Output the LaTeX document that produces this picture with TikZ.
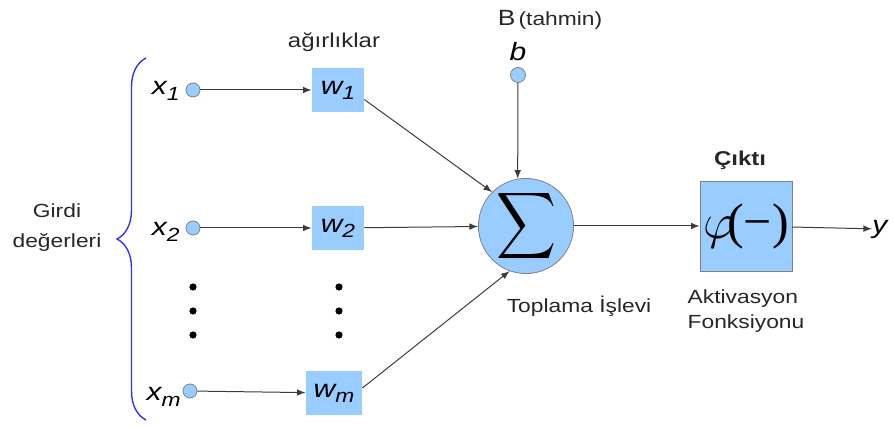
\documentclass[tikz,border=0pt]{standalone}
\usepackage{amsmath}
\usepackage{graphicx}
\usepackage{fontspec}
\setmainfont{Liberation Sans}[FakeStretch=1.2]
\newfontfamily\timesfont{Liberation Serif}
\usetikzlibrary{positioning,decorations.pathreplacing}
\definecolor{nodeblue}{HTML}{99CCFF}
\definecolor{edgegray}{HTML}{3C3C3C}
\definecolor{bracecol}{HTML}{3535E0}
\newcommand{\isub}[2][4pt]{\raisebox{-#1}{\fontsize{9.5}{9.5}\selectfont #2}}

\begin{document}
\begin{tikzpicture}[x=0.5pt,y=-0.5pt,
inpt/.style={circle,draw=gray,fill=nodeblue,inner sep=0pt,minimum size=7pt},
wbox/.style={fill=nodeblue,minimum width=26pt,minimum height=22pt,inner sep=0pt,font=\fontsize{12.5}{12.5}\selectfont\itshape},
varlbl/.style={inner sep=0pt,font=\fontsize{12.5}{12.5}\selectfont\itshape},
conn/.style={->,>=latex,draw=edgegray,line width=0.5pt},
lbl/.style={inner sep=0pt,text=black!85,font=\fontsize{9.5}{15}\selectfont},
vdot/.style={circle,fill=black,inner sep=0pt,minimum size=3.6pt}]
\useasboundingbox (0,0) rectangle (894,426);

\node[inpt] (x1) at (193,90) {};
\node[inpt] (x2) at (193,228) {};
\node[inpt] (xm) at (190,391) {};
\node[varlbl,anchor=base east] (lx1) at (180,95) {x\isub[3pt]{1}};
\node[varlbl,anchor=base east] (lx2) at (180,236) {x\isub[3pt]{2}};
\node[varlbl,anchor=base east] (lxm) at (181,401) {x\isub[3pt]{m}};

\node[wbox] (w1) at (338,90) {w\isub[2.5pt]{1}};
\node[wbox] (w2) at (338,228) {w\isub[2.5pt]{2}};
\node[wbox,minimum width=28pt] (wm) at (334,393) {w\isub[2.5pt]{m}};
\node[lbl,font=\fontsize{10}{10}\selectfont] (agr) at (334,42) {ağırlıklar};

\foreach \i/\y in {1/287,2/311,3/335} {
  \node[vdot] (dl\i) at (193,\y) {};
  \node[vdot] (dr\i) at (339,\y) {};
}

\node[circle,draw=gray,fill=nodeblue,minimum size=46pt,inner sep=0pt,font=\fontsize{21}{21}\selectfont] (sum) at (526,226) {\scalebox{1}[1.12]{$\displaystyle\sum$}};
\node[inpt,minimum size=7.5pt] (b) at (518,75) {};
\node[varlbl,above=3pt of b] (lb) {b};
\node[lbl,anchor=base] (bias) at (550,26) {{\fontsize{11}{11}\selectfont B}\,(tahmin)};
\node[lbl] (topl) at (579,306) {Toplama İşlevi};

\node[draw=gray,fill=nodeblue,minimum width=46pt,minimum height=45pt,inner sep=0pt,font=\fontsize{25}{25}\selectfont] (phi) at (746,226) {$\varphi$\kern-4pt{\timesfont(−)}};
\node[lbl,font=\fontsize{10}{10}\selectfont\bfseries] (cikti) at (740,160) {Çıktı};
\node[lbl,align=left,font=\fontsize{9.5}{12.5}\selectfont] (akt) at (746,311) {Aktivasyon\\Fonksiyonu};
\node[varlbl,anchor=west] (y) at (872,229) {y};

\node[lbl,align=center] (girdi) at (57,228) {Girdi\\değerleri};
\draw[bracecol,line width=0.7pt,decorate,decoration={brace,amplitude=14.5pt,aspect=0.5}] (146,420) -- (146,58);

\draw[conn] (x1) -- (w1);
\draw[conn] (x2) -- (w2);
\draw[conn] (xm) -- (wm);
\draw[conn] (w1.-20) -- (sum.135);
\draw[conn] (w2) -- (sum);
\draw[conn] (wm.10) -- (sum.250);
\draw[conn] (b) -- (sum.100);
\draw[conn] (sum) -- (phi);
\draw[conn] (phi) -- (y);
\end{tikzpicture}
\end{document}
